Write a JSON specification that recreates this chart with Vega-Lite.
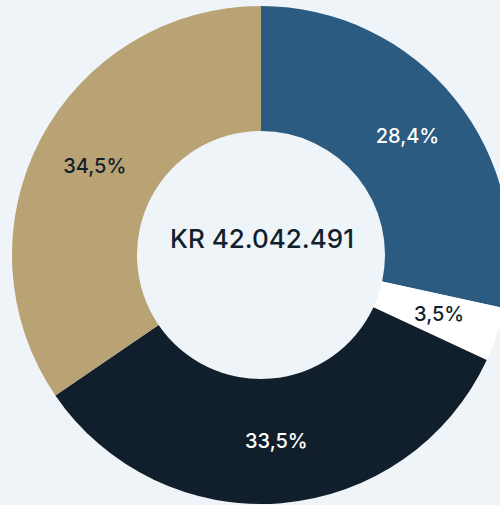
{
  "$schema": "https://vega.github.io/schema/vega-lite/v6.json",
  "width": 500,
  "height": 505,
  "autosize": "none",
  "padding": 0,
  "background": "#EEF4F8",
  "view": {"stroke": null},
  "layer": [
    {
      "data": {"values": [
        {"segment": "A", "share": 28.4, "label": "28,4%", "order": 1},
        {"segment": "B", "share": 3.5, "label": "3,5%", "order": 2},
        {"segment": "C", "share": 33.5, "label": "33,5%", "order": 3},
        {"segment": "D", "share": 34.5, "label": "34,5%", "order": 4}
      ]},
      "encoding": {
        "theta": {"field": "share", "type": "quantitative", "stack": true},
        "order": {"field": "order", "type": "quantitative"}
      },
      "layer": [
        {
          "mark": {"type": "arc", "innerRadius": 124, "outerRadius": 249, "xOffset": 11, "yOffset": 2.5},
          "encoding": {
            "color": {
              "field": "segment", "type": "nominal", "legend": null,
              "scale": {"domain": ["A", "B", "C", "D"], "range": ["#2C5B81", "#FFFFFF", "#111F2C", "#B9A274"]}
            }
          }
        },
        {
          "mark": {"type": "text", "radius": 188, "xOffset": 11, "yOffset": 2.5, "font": "Inter", "fontSize": 20, "fontWeight": 500, "letterSpacing": -0.5, "align": "center", "baseline": "middle"},
          "encoding": {
            "text": {"field": "label", "type": "nominal"},
            "color": {
              "condition": {"test": "datum.order == 2 || datum.order == 4", "value": "#111F2C"},
              "value": "#FFFFFF"
            }
          }
        }
      ]
    },
    {
      "data": {"values": [{"total": "KR 42.042.491"}]},
      "mark": {"type": "text", "font": "Inter", "fontSize": 26, "fontWeight": 500, "letterSpacing": -2.7, "color": "#111F2C", "align": "center", "baseline": "middle", "xOffset": 12, "yOffset": -13},
      "encoding": {"text": {"field": "total", "type": "nominal"}}
    }
  ]
}
